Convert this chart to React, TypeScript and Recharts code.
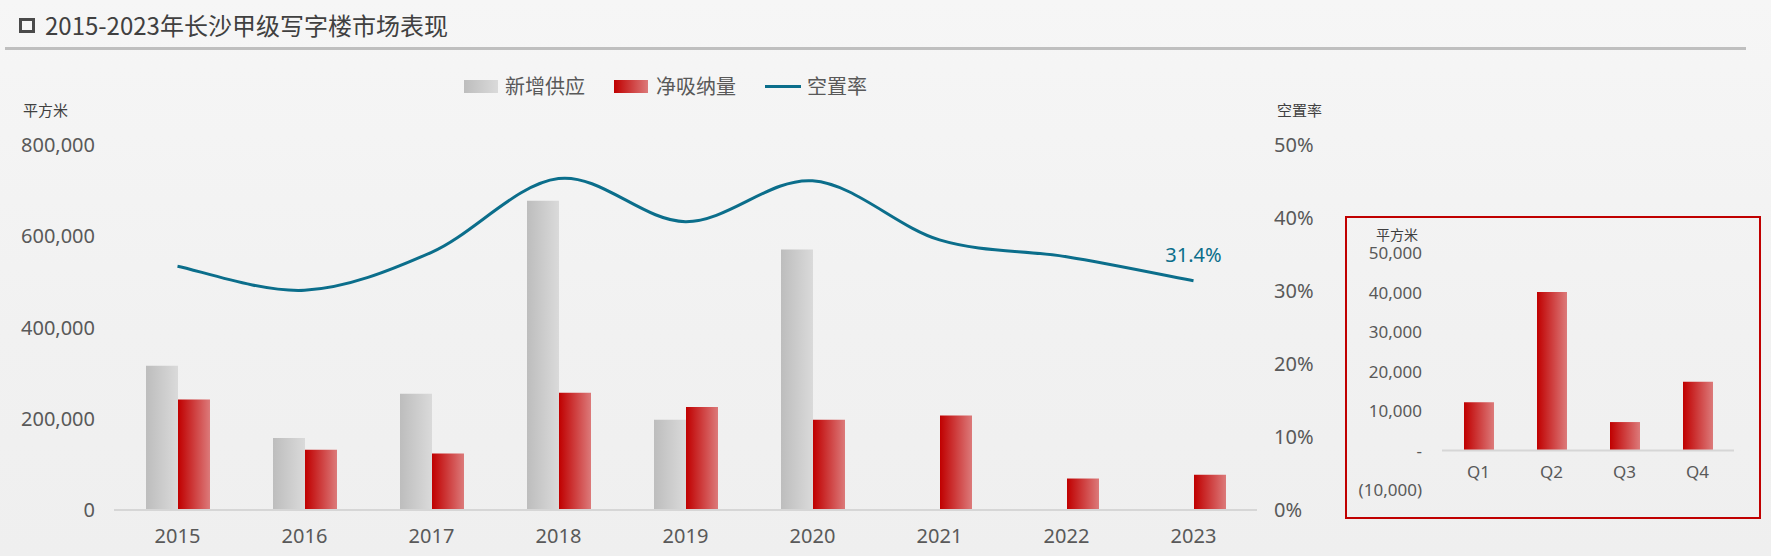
import React from 'react';
import { ComposedChart, BarChart, Bar, Line, XAxis, YAxis, ReferenceLine, LabelList } from 'recharts';

// 主图数据
const years = ['2015', '2016', '2017', '2018', '2019', '2020', '2021', '2022', '2023'];
const newSupply = [316000, 158000, 255000, 678000, 198000, 571000, null, null, null];
const netAbsorption = [242000, 132000, 124000, 257000, 226000, 198000, 207000, 69000, 77000];
const vacancyRate = [0.334, 0.301, 0.353, 0.454, 0.395, 0.451, 0.37, 0.347, 0.314];
const leftTicks = [0, 200000, 400000, 600000, 800000];
const rightTicks = [0, 0.1, 0.2, 0.3, 0.4, 0.5];

// 2023 分季度净吸纳量
const quarters = ['Q1', 'Q2', 'Q3', 'Q4'];
const quarterAbsorption = [12200, 40100, 7200, 17400];
const insetTicks = [-10000, 0, 10000, 20000, 30000, 40000, 50000];

const mainData = years.map((y, i) => ({
  year: y,
  supply: newSupply[i],
  absorption: netAbsorption[i],
  vacancy: vacancyRate[i],
}));
const insetData = quarters.map((q, i) => ({ quarter: q, absorption: quarterAbsorption[i] }));

const FONT = '"Noto Sans", "Noto Sans CJK SC", sans-serif';
const CJK = '"Noto Sans CJK SC", sans-serif';
const TEXT = '#595959';
const TEAL = '#0b6e8b';

// Excel 风格的平滑曲线 (Catmull-Rom 转贝塞尔)
const excelSmooth = (context: any) => {
  let pts: number[][] = [];
  return {
    areaStart() {},
    areaEnd() {},
    lineStart() {
      pts = [];
    },
    point(x: number, y: number) {
      pts.push([+x, +y]);
    },
    lineEnd() {
      if (!pts.length) return;
      context.moveTo(pts[0][0], pts[0][1]);
      for (let i = 0; i < pts.length - 1; i++) {
        const p0 = pts[i - 1] || pts[i];
        const p1 = pts[i];
        const p2 = pts[i + 1];
        const p3 = pts[i + 2] || p2;
        context.bezierCurveTo(
          p1[0] + (p2[0] - p0[0]) / 6,
          p1[1] + (p2[1] - p0[1]) / 6,
          p2[0] - (p3[0] - p1[0]) / 6,
          p2[1] - (p3[1] - p1[1]) / 6,
          p2[0],
          p2[1]
        );
      }
    },
  };
};

const fmtNum = (v: number) => v.toLocaleString('en-US');
const fmtPct = (v: number) => `${Math.round(v * 100)}%`;
const fmtInset = (v: number) => (v === 0 ? '-' : v < 0 ? `(${fmtNum(-v)})` : fmtNum(v));

const QuarterTick = ({ x, y, payload }: any) => (
  <text x={x} y={y - 19} textAnchor="middle" dominantBaseline="central" fill={TEXT} fontSize={17} fontFamily={FONT}>
    {payload.value}
  </text>
);

const LastLabel = (p: any) =>
  p.index === years.length - 1 ? (
    <text x={p.x} y={p.y - 26} textAnchor="middle" dominantBaseline="central" fill={TEAL} fontSize={20} fontFamily={FONT}>
      {(p.value * 100).toFixed(1)}%
    </text>
  ) : null;

const Gradients = () => (
  <defs>
    <linearGradient id="gGray" x1="0" y1="0" x2="1" y2="0">
      <stop offset="0%" stopColor="#bdbdbd" />
      <stop offset="100%" stopColor="#dadada" />
    </linearGradient>
    <linearGradient id="gRed" x1="0" y1="0" x2="1" y2="0">
      <stop offset="0%" stopColor="#c00000" />
      <stop offset="100%" stopColor="#dc7a7a" />
    </linearGradient>
  </defs>
);

const abs = (left: number, top: number): React.CSSProperties => ({ position: 'absolute', left, top });

export default function App() {
  const tickStyle = { fill: TEXT, fontSize: 20, fontFamily: FONT };
  return (
    <div
      style={{
        position: 'relative',
        width: 1771,
        height: 556,
        overflow: 'hidden',
        background: 'linear-gradient(180deg, #f6f6f6 0%, #f1f1f1 60%, #efefef 100%)',
      }}
    >
      <style>{`body{margin:0}`}</style>

      {/* 标题 */}
      <div style={{ ...abs(19, 18), width: 10, height: 9, border: '3px solid #4a4a4a' }} />
      <div style={{ ...abs(45, 8), fontFamily: CJK, fontSize: 24, color: '#404040', lineHeight: '34px' }}>
        2015-2023年长沙甲级写字楼市场表现
      </div>
      <div style={{ ...abs(5, 47), width: 1741, height: 3, background: '#bfbfbf' }} />

      {/* 图例 */}
      <div style={{ ...abs(464, 80), width: 34, height: 13, background: 'linear-gradient(90deg,#bdbdbd,#dadada)' }} />
      <div style={{ ...abs(505, 72), fontFamily: CJK, fontSize: 20, color: TEXT, lineHeight: '28px' }}>新增供应</div>
      <div style={{ ...abs(614, 80), width: 34, height: 13, background: 'linear-gradient(90deg,#c00000,#dc7a7a)' }} />
      <div style={{ ...abs(656, 72), fontFamily: CJK, fontSize: 20, color: TEXT, lineHeight: '28px' }}>净吸纳量</div>
      <div style={{ ...abs(765, 85), width: 36, height: 3, background: TEAL }} />
      <div style={{ ...abs(807, 72), fontFamily: CJK, fontSize: 20, color: TEXT, lineHeight: '28px' }}>空置率</div>

      {/* 轴标题 */}
      <div style={{ ...abs(23, 100), fontFamily: CJK, fontSize: 15, color: '#404040', lineHeight: '20px' }}>平方米</div>
      <div style={{ ...abs(1277, 100), fontFamily: CJK, fontSize: 15, color: '#404040', lineHeight: '20px' }}>空置率</div>

      {/* 主图 */}
      <div style={abs(0, 0)}>
        <ComposedChart width={1340} height={556} data={mainData} margin={{ top: 145, right: 0, bottom: 0, left: 0 }} barGap={0}>
          <Gradients />
          <XAxis
            dataKey="year"
            height={46}
            tickLine={false}
            tickSize={0}
            tickMargin={19}
            axisLine={{ stroke: '#d6d6d6', strokeWidth: 2 }}
            tick={tickStyle}
            interval={0}
          />
          <YAxis
            yAxisId="left"
            width={114}
            domain={[0, 800000]}
            ticks={leftTicks}
            tickFormatter={fmtNum}
            axisLine={false}
            tickLine={false}
            tickSize={0}
            tickMargin={19}
            tick={tickStyle}
          />
          <YAxis
            yAxisId="right"
            orientation="right"
            width={83}
            domain={[0, 0.5]}
            ticks={rightTicks}
            tickFormatter={fmtPct}
            axisLine={false}
            tickLine={false}
            tickSize={0}
            tickMargin={17}
            tick={tickStyle}
          />
          <Bar yAxisId="left" dataKey="supply" name="新增供应" fill="url(#gGray)" barSize={32} isAnimationActive={false} />
          <Bar yAxisId="left" dataKey="absorption" name="净吸纳量" fill="url(#gRed)" barSize={32} isAnimationActive={false} />
          <Line
            yAxisId="right"
            dataKey="vacancy"
            name="空置率"
            type={excelSmooth as any}
            stroke={TEAL}
            strokeWidth={3}
            dot={false}
            activeDot={false}
            isAnimationActive={false}
          >
            <LabelList dataKey="vacancy" content={LastLabel} />
          </Line>
        </ComposedChart>
      </div>

      {/* 2023 分季度小图 */}
      <div style={{ ...abs(1345, 216), width: 416, height: 303, boxSizing: 'border-box', border: '2px solid #c00000' }} />
      <div style={{ ...abs(1376, 224), fontFamily: CJK, fontSize: 14, color: '#404040', lineHeight: '20px' }}>平方米</div>
      <div style={abs(1345, 216)}>
        <BarChart width={416} height={303} data={insetData} margin={{ top: 37, right: 27, bottom: 0, left: 0 }}>
          <Gradients />
          <XAxis
            dataKey="quarter"
            height={29}
            axisLine={false}
            tickLine={false}
            tickSize={0}
            tickMargin={0}
            tick={<QuarterTick />}
            interval={0}
          />
          <YAxis
            width={97}
            domain={[-10000, 50000]}
            ticks={insetTicks}
            tickFormatter={fmtInset}
            axisLine={false}
            tickLine={false}
            tickSize={0}
            tickMargin={20}
            tick={{ fill: TEXT, fontSize: 17, fontFamily: FONT }}
          />
          <ReferenceLine y={0} stroke="#d6d6d6" strokeWidth={2} />
          <Bar dataKey="absorption" name="净吸纳量" fill="url(#gRed)" barSize={30} isAnimationActive={false} />
        </BarChart>
      </div>
    </div>
  );
}
